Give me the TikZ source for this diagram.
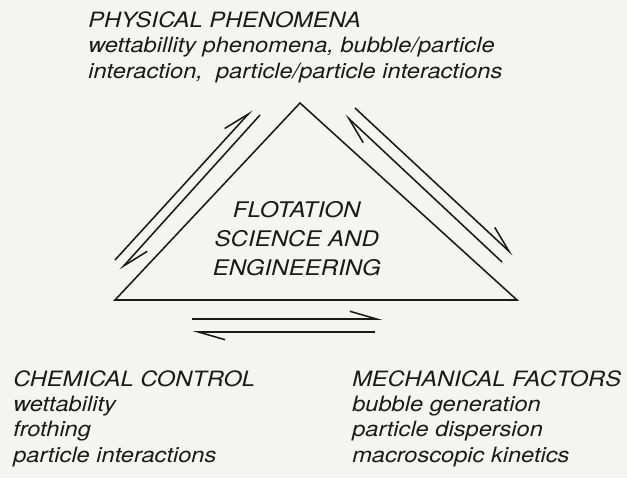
\documentclass[tikz,border=0pt]{standalone}
\usepackage{fontspec}
\setmainfont{TeX Gyre Heros}[FakeStretch=1.12]
\usepackage{tikz}
\usetikzlibrary{arrows.meta}
\definecolor{ink}{HTML}{1A1A1A}
\definecolor{paper}{HTML}{F4F4F2}

\begin{document}
\begin{tikzpicture}[x=1cm,y=1cm,
  side/.style={draw=ink,line width=1.1pt,line join=miter},
  harp/.style={draw=ink,line width=1.1pt,
    -{Straight Barb[left,length=19pt,width=11pt]}},
  lbl/.style={font=\itshape\fontsize{15}{17.8}\selectfont,text=ink,
    align=left,inner sep=0pt,anchor=base west},
  core/.style={font=\itshape\fontsize{15.3}{20.3}\selectfont,text=ink,
    align=center,inner sep=0pt,anchor=base}]

  \fill[paper] (0,0) rectangle (15.675,-11.95);
  \useasboundingbox (0,0) rectangle (15.675,-11.95);

  \coordinate (apex)    at (7.500,-2.575);
  \coordinate (cornerL) at (2.875,-7.500);
  \coordinate (cornerR) at (12.925,-7.500);
  \draw[side] (apex) -- (cornerL) -- (cornerR) -- cycle;

  \node[lbl] (physical) at (2.20,-1.95)
    {PHYSICAL PHENOMENA\\wettabillity phenomena, bubble/particle\\
     interaction,~ particle/particle interactions};
  \node[core] (flotation) at (7.42,-6.875)
    {FLOTATION\\SCIENCE AND\\ENGINEERING};
  \node[lbl] (chemical) at (0.325,-11.55)
    {CHEMICAL CONTROL\\wettability\\frothing\\particle interactions};
  \node[lbl] (mechanical) at (8.80,-11.55)
    {MECHANICAL FACTORS\\bubble generation\\particle dispersion\\
     macroscopic kinetics};

  \coordinate (upLa) at (2.875,-6.500);
  \coordinate (upLb) at (6.300,-2.750);
  \coordinate (dnLa) at (6.500,-2.875);
  \coordinate (dnLb) at (3.000,-6.750);
  \coordinate (upRa) at (12.550,-6.550);
  \coordinate (upRb) at (8.625,-2.875);
  \coordinate (dnRa) at (8.875,-2.700);
  \coordinate (dnRb) at (12.825,-6.375);
  \coordinate (rtBa) at (4.800,-7.975);
  \coordinate (rtBb) at (9.550,-7.975);
  \coordinate (ltBa) at (9.375,-8.300);
  \coordinate (ltBb) at (4.825,-8.300);

  \draw[harp] (upLa) -- (upLb);
  \draw[harp] (dnLa) -- (dnLb);
  \draw[harp] (upRa) -- (upRb);
  \draw[harp] (dnRa) -- (dnRb);
  \draw[harp] (rtBa) -- (rtBb);
  \draw[harp] (ltBa) -- (ltBb);
\end{tikzpicture}
\end{document}
